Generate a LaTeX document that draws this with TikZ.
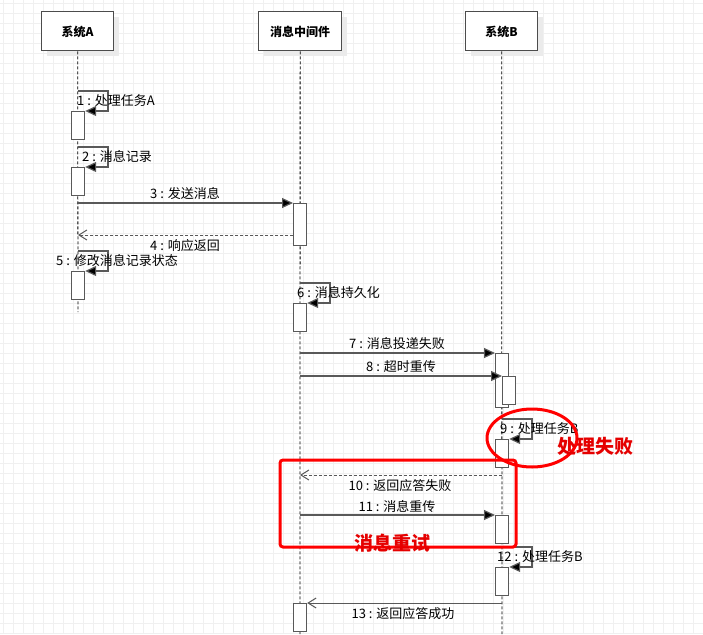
\documentclass[tikz,border=0pt]{standalone}
\usepackage{fontspec}
\setmainfont{Liberation Sans}
\newfontfamily\cjk{Noto Sans CJK SC}
\usetikzlibrary{arrows.meta,shadows}
\tikzset{
  head/.style={draw=black!70, line width=1.3pt, fill=white, minimum width=72pt, minimum height=39pt,
    anchor=north west, text depth=0pt, font=\cjk\bfseries\fontsize{12}{13}\selectfont,
    drop shadow={shadow xshift=5pt, shadow yshift=-5pt, fill=black!8, opacity=1}},
  act/.style={draw=black!65, line width=1.2pt, fill=white, minimum width=13pt, anchor=north west, inner sep=0pt},
  life/.style={dashed, black, line width=0.8pt, dash pattern=on 3pt off 2pt},
  msg/.style={draw=black!65, line width=1.2pt, -{Triangle[length=11pt,width=10pt,fill=black]}},
  ret/.style={draw=black!65, line width=1pt, dash pattern=on 3pt off 2pt, -{Straight Barb[length=8pt,width=10pt]}},
  lbl/.style={font=\cjk\fontsize{13}{14}\selectfont, inner sep=1pt},
  redtag/.style={font=\cjk\bfseries\fontsize{19}{21}\selectfont, text=red!90!black}
}
\begin{document}
\begin{tikzpicture}[x=1pt, y=-1pt]
\useasboundingbox (0,0) rectangle (703,634);
\fill[white] (0,0) rectangle (703,634);
% grid
\foreach \i in {0,10,...,700} \draw[black!6, line width=0.5pt] (\i+3,0) -- (\i+3,634);
\foreach \j in {0,10,...,630} \draw[black!6, line width=0.5pt] (0,\j+3) -- (703,\j+3);

% heads
\node[head] (sa) at (41,11) {系统A};
\node[head, minimum width=83pt] (mq) at (258,11) {消息中间件};
\node[head] (sb) at (465,11) {系统B};

% lifelines
\draw[life] (sa.south) -- (78,312);
\draw[life] (mq.south) -- (300,634);
\draw[life] (sb.south) -- (502,634);

% activations
\node[act, minimum height=28pt] (a1) at (71,111) {};
\node[act, minimum height=28pt] (a2) at (71,167) {};
\node[act, minimum height=28pt] (a5) at (71,271) {};
\node[act, minimum height=42pt] (m3) at (293,203) {};
\node[act, minimum height=28pt] (m6) at (293,303) {};
\node[act, minimum height=54pt] (b7) at (495,353) {};
\node[act, minimum height=28pt] (b8) at (502,376) {};
\node[act, minimum height=28pt] (b9) at (495,439) {};
\node[act, minimum height=28pt] (b11) at (495,515) {};
\node[act, minimum height=28pt] (b12) at (495,567) {};
\node[act, minimum height=28pt] (m13) at (293,603) {};

% self calls
\draw[msg] (78,91) -- (108,91) -- (108,111) -- (a1.north east);
\node[lbl, anchor=west] at (76,101) {1 : 处理任务A};
\draw[msg] (78,147) -- (108,147) -- (108,167) -- (a2.north east);
\node[lbl, anchor=west] at (81,157) {2 : 消息记录};
\draw[msg] (78,251) -- (108,251) -- (108,271) -- (a5.north east);
\node[lbl, anchor=west] at (55,261) {5 : 修改消息记录状态};
\draw[msg] (300,283) -- (330,283) -- (330,303) -- (m6.north east);
\node[lbl, anchor=west] at (296,293) {6 : 消息持久化};
\draw[msg] (502,419) -- (532,419) -- (532,439) -- (b9.north east);
\node[lbl, anchor=west] at (499,429) {9 : 处理任务B};
\draw[msg] (502,547) -- (532,547) -- (532,567) -- (b12.north east);
\node[lbl, anchor=west] at (496,557) {12 : 处理任务B};

% messages
\draw[msg] (78,203) -- (m3.north west);
\node[lbl] at (185,194) {3 : 发送消息};
\draw[ret] (293,235) -- (78,235);
\node[lbl] at (185,246) {4 : 响应返回};
\draw[msg] (300,353) -- (b7.north west);
\node[lbl] at (397,344) {7 : 消息投递失败};
\draw[msg] (300,376) -- (b8.north west);
\node[lbl] at (401,367) {8 : 超时重传};
\draw[ret] (502,475) -- (300,475);
\node[lbl] at (400,486) {10 : 返回应答失败};
\draw[msg] (300,515) -- (b11.north west);
\node[lbl] at (397,506) {11 : 消息重传};
\draw[ret, solid] (502,603) -- (m13.north east);
\node[lbl] at (403,614) {13 : 返回应答成功};

% highlights
\draw[red, line width=3pt, rounded corners=3pt] (280,460) rectangle (516,547);
\draw[red, line width=3pt] (532,438) ellipse [x radius=45, y radius=29];
\node[redtag] at (595,446) {处理失败};
\node[redtag] at (392,543) {消息重试};
\end{tikzpicture}
\end{document}
